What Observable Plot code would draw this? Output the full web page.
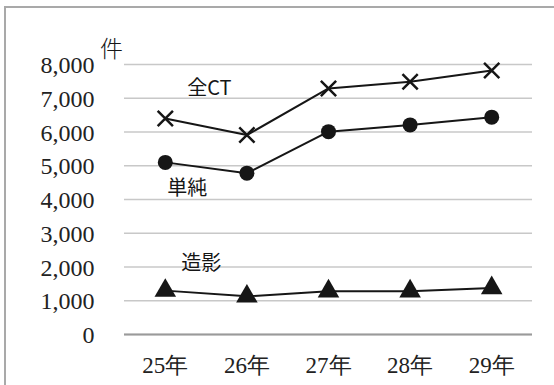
<!DOCTYPE html>
<html><head><meta charset="utf-8">
<script src="https://cdn.jsdelivr.net/npm/d3@7"></script>
<script src="https://cdn.jsdelivr.net/npm/@observablehq/plot@0.6"></script>
<style>
body{margin:0;background:#fff;}
#wrap{position:relative;width:554px;height:385px;overflow:hidden;}
#border{position:absolute;left:4px;top:6px;width:700px;height:600px;border-left:2px solid #a9a9a9;border-top:2px solid #a9a9a9;}
#chart{position:absolute;left:0;top:0;}
</style></head><body>
<div id="wrap"><div id="border"></div><div id="chart"></div></div>
<script>
// Data
const years = [25, 26, 27, 28, 29];
const allCT = [6400, 5910, 7290, 7490, 7820];
const simple = [5100, 4780, 6010, 6210, 6440];
const contrast = [1300, 1130, 1280, 1280, 1380];
const yTicks = [0, 1000, 2000, 3000, 4000, 5000, 6000, 7000, 8000];
const unitLabel = "件";
const seriesNames = ["全CT", "単純", "造影"];
const labelX = [25.54, 25.27, 25.44];
const labelY = [7300, 4310, 2090];

const rows = (vals) => years.map((y, i) => ({year: y, value: vals[i]}));
const labels = seriesNames.map((n, i) => ({name: n, x: labelX[i], y: labelY[i]}));
const ink = "#161616";
const serif = "Liberation Serif";
const sans = "Noto Sans CJK JP";
const fmt = d3.format(",");

const plot = Plot.plot({
  width: 554, height: 385,
  marginLeft: 124, marginRight: 22, marginTop: 64, marginBottom: 51,
  style: {background: "transparent", color: ink},
  x: {domain: [24.5, 29.5], axis: null},
  y: {domain: [0, 8000], axis: null},
  marks: [
    Plot.gridY(yTicks, {stroke: "#c8c8c8", strokeOpacity: 1, strokeWidth: 1.5}),
    Plot.ruleY([0], {stroke: "#9a9a9a", strokeWidth: 2}),
    Plot.text(yTicks, {y: d => d, text: d => fmt(d), frameAnchor: "left", textAnchor: "end", lineAnchor: "middle", dx: -30, dy: 1, fontSize: 24, fontFamily: serif, fill: "#222"}),
    Plot.text(years, {x: d => d, text: d => `${d}年`, frameAnchor: "bottom", lineAnchor: "middle", dy: 31, fontSize: 23, fontFamily: serif, fill: "#222"}),
    Plot.text([unitLabel], {frameAnchor: "top-left", textAnchor: "middle", lineAnchor: "middle", dx: -13, dy: -15, fontSize: 23, fontFamily: sans, fontWeight: 300, fill: ink}),
    Plot.line(rows(allCT), {x: "year", y: "value", stroke: ink, strokeWidth: 2}),
    Plot.line(rows(simple), {x: "year", y: "value", stroke: ink, strokeWidth: 2}),
    Plot.line(rows(contrast), {x: "year", y: "value", stroke: ink, strokeWidth: 2}),
    Plot.dot(rows(allCT), {x: "year", y: "value", symbol: "times", r: 7, stroke: ink, strokeWidth: 2.5, fill: "none"}),
    Plot.dot(rows(simple), {x: "year", y: "value", symbol: "circle", r: 7.5, fill: ink, stroke: "none"}),
    Plot.dot(rows(contrast), {x: "year", y: "value", symbol: "triangle", r: 8, fill: ink, stroke: "none"}),
    Plot.text(labels, {x: "x", y: "y", text: "name", fontSize: 20, fontFamily: sans, fill: ink})
  ]
});
document.getElementById("chart").appendChild(plot);
</script>
</body></html>
